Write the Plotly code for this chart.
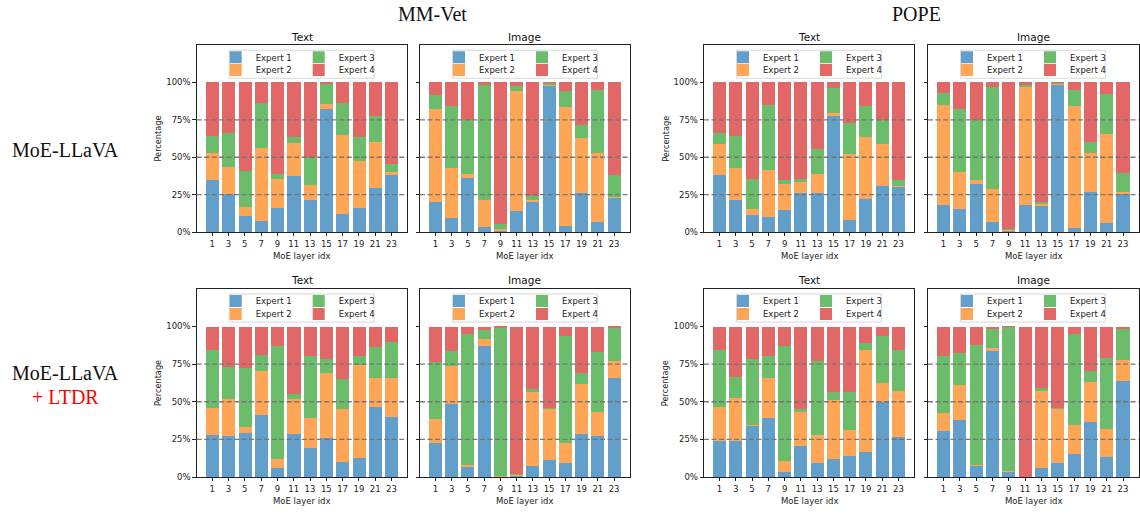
import plotly.graph_objects as go

# ---------------- data ----------------
layers = [1, 3, 5, 7, 9, 11, 13, 15, 17, 19, 21, 23]
y_ticks = [0, 25, 50, 75, 100]
y_tick_labels = ["0%", "25%", "50%", "75%", "100%"]
expert_names = ["Expert 1", "Expert 2", "Expert 3", "Expert 4"]

# MoE-LLaVA, MM-Vet, Text
mv_text_e1 = [34.5, 25.2, 10.6, 7.5, 15.7, 37.2, 21.5, 81.9, 12.2, 15.7, 29.6, 38.3]
mv_text_e2 = [18.4, 18.2, 5.8, 48.7, 19.7, 22.5, 10.1, 3.7, 52.6, 31.9, 30.6, 1.5]
mv_text_e3 = [11.0, 22.5, 24.3, 30.1, 3.1, 3.8, 18.4, 13.5, 21.3, 15.9, 17.5, 5.8]
mv_text_e4 = [36.1, 34.1, 59.3, 13.7, 61.5, 36.5, 50.0, 0.9, 13.9, 36.5, 22.3, 54.4]
# MoE-LLaVA, MM-Vet, Image
mv_img_e1 = [20.1, 9.5, 35.8, 3.3, 0.9, 14.2, 20.1, 98.0, 3.8, 25.9, 6.4, 22.8]
mv_img_e2 = [62.4, 33.2, 2.9, 18.4, 1.3, 80.3, 1.4, 0.9, 79.6, 36.7, 46.7, 0.9]
mv_img_e3 = [9.1, 41.4, 36.3, 76.3, 3.1, 3.1, 2.6, 0.9, 10.6, 9.1, 42.0, 14.1]
mv_img_e4 = [8.4, 15.9, 25.0, 2.0, 94.7, 2.4, 75.9, 0.2, 6.0, 28.3, 4.9, 62.2]
# MoE-LLaVA, POPE, Text
pp_text_e1 = [38.3, 21.5, 11.5, 10.0, 14.8, 26.3, 26.1, 78.1, 8.0, 22.3, 30.8, 30.3]
pp_text_e2 = [20.3, 21.0, 3.8, 31.4, 17.3, 7.1, 12.8, 1.3, 44.0, 41.0, 28.3, 0.5]
pp_text_e3 = [7.3, 21.4, 20.3, 43.6, 2.4, 2.2, 16.9, 17.1, 20.8, 21.0, 15.5, 3.7]
pp_text_e4 = [34.1, 36.1, 64.4, 15.0, 65.5, 64.4, 44.2, 3.5, 27.2, 15.7, 25.4, 65.5]
# MoE-LLaVA, POPE, Image
pp_img_e1 = [17.7, 15.5, 32.1, 6.6, 0.9, 17.7, 17.5, 98.5, 2.9, 26.8, 6.2, 25.7]
pp_img_e2 = [67.3, 24.5, 2.4, 21.9, 0.9, 79.4, 1.3, 0.6, 81.2, 26.3, 59.5, 1.1]
pp_img_e3 = [7.7, 41.9, 40.5, 68.6, 0.4, 1.1, 1.3, 0.7, 10.6, 7.1, 26.6, 12.8]
pp_img_e4 = [7.3, 18.1, 25.0, 2.9, 97.8, 1.8, 79.9, 0.2, 5.3, 39.8, 7.7, 60.4]
# MoE-LLaVA + LTDR, MM-Vet, Text
mv_text_ltdr_e1 = [28.3, 27.6, 29.6, 41.0, 5.9, 28.9, 19.3, 26.1, 9.9, 12.7, 46.7, 39.9]
mv_text_ltdr_e2 = [17.8, 24.2, 4.0, 29.4, 5.9, 23.1, 19.7, 43.0, 35.5, 61.6, 19.3, 26.1]
mv_text_ltdr_e3 = [38.1, 21.4, 38.8, 10.5, 75.5, 3.0, 41.7, 9.6, 19.7, 6.0, 20.8, 23.7]
mv_text_ltdr_e4 = [15.8, 26.8, 27.6, 19.1, 12.7, 45.0, 19.3, 21.3, 34.9, 19.7, 13.2, 10.3]
# MoE-LLaVA + LTDR, MM-Vet, Image
mv_img_ltdr_e1 = [23.0, 48.9, 7.2, 87.3, 0.0, 1.3, 7.2, 11.6, 9.6, 28.9, 27.6, 66.0]
mv_img_ltdr_e2 = [15.6, 25.2, 1.1, 4.4, 0.9, 0.7, 49.8, 33.8, 12.8, 32.9, 16.0, 11.0]
mv_img_ltdr_e3 = [37.7, 9.5, 86.9, 6.1, 98.7, 0.2, 1.3, 0.7, 71.5, 7.3, 39.5, 22.1]
mv_img_ltdr_e4 = [23.7, 16.4, 4.8, 2.2, 0.4, 97.8, 41.7, 53.9, 6.1, 30.9, 16.9, 0.9]
# MoE-LLaVA + LTDR, POPE, Text
pp_text_ltdr_e1 = [23.9, 23.9, 34.2, 39.3, 3.7, 20.4, 9.2, 12.3, 14.3, 16.9, 50.0, 27.0]
pp_text_ltdr_e2 = [22.8, 28.5, 0.4, 26.7, 6.8, 22.6, 18.7, 39.0, 16.8, 67.5, 12.5, 30.0]
pp_text_ltdr_e3 = [37.7, 14.3, 44.1, 14.7, 76.8, 2.2, 49.1, 5.5, 25.7, 4.4, 31.4, 27.4]
pp_text_ltdr_e4 = [15.6, 33.3, 21.3, 19.3, 12.7, 54.8, 23.0, 43.2, 43.2, 11.2, 6.1, 15.6]
# MoE-LLaVA + LTDR, POPE, Image
pp_img_ltdr_e1 = [30.9, 37.7, 7.9, 84.0, 3.7, 0.0, 6.1, 9.6, 15.4, 36.8, 13.6, 63.6]
pp_img_ltdr_e2 = [11.4, 23.7, 0.4, 1.5, 0.7, 0.0, 51.1, 36.2, 19.5, 26.4, 18.6, 14.0]
pp_img_ltdr_e3 = [38.0, 20.8, 79.2, 12.7, 95.4, 0.0, 2.0, 0.3, 60.5, 7.2, 46.7, 20.6]
pp_img_ltdr_e4 = [19.7, 17.8, 12.5, 1.8, 0.2, 100.0, 40.8, 53.9, 4.6, 29.6, 21.1, 1.8]

panels = [
    ("Text", [mv_text_e1, mv_text_e2, mv_text_e3, mv_text_e4]),
    ("Image", [mv_img_e1, mv_img_e2, mv_img_e3, mv_img_e4]),
    ("Text", [pp_text_e1, pp_text_e2, pp_text_e3, pp_text_e4]),
    ("Image", [pp_img_e1, pp_img_e2, pp_img_e3, pp_img_e4]),
    ("Text", [mv_text_ltdr_e1, mv_text_ltdr_e2, mv_text_ltdr_e3, mv_text_ltdr_e4]),
    ("Image", [mv_img_ltdr_e1, mv_img_ltdr_e2, mv_img_ltdr_e3, mv_img_ltdr_e4]),
    ("Text", [pp_text_ltdr_e1, pp_text_ltdr_e2, pp_text_ltdr_e3, pp_text_ltdr_e4]),
    ("Image", [pp_img_ltdr_e1, pp_img_ltdr_e2, pp_img_ltdr_e3, pp_img_ltdr_e4]),
]

colors = ["#62A0CB", "#FFA556", "#6BBC6B", "#E26868"]

# ---------------- layout geometry (pixels) ----------------
W, H = 1140, 514
col_px = [(196.7, 407.0), (420.0, 629.5), (704.0, 914.0), (928.0, 1138.5)]
row_px = [(45.5, 234.3), (291.7, 481.7)]  # (top, bottom)
FONT = "DejaVu Sans"
SERIF = "Liberation Serif"
TICK = 8.5

fig = go.Figure()
layout = dict(
    width=W, height=H, margin=dict(l=0, r=0, t=0, b=0),
    paper_bgcolor="white", plot_bgcolor="white",
    barmode="stack", bargap=0, showlegend=True,
    font=dict(family=FONT, size=TICK, color="#222"),
)
shapes = []
annotations = []

for k, (title, series) in enumerate(panels):
    r, c = divmod(k, 4)
    left, right = col_px[c]
    top, bottom = row_px[r]
    sfx = "" if k == 0 else str(k + 1)
    xa, ya = "x" + sfx, "y" + sfx
    legA = "legend" if k == 0 else f"legend{2 * k + 1}"
    legB = f"legend{2 * k + 2}"
    for i in range(4):
        fig.add_trace(go.Bar(
            x=layers, y=series[i], width=1.6, name=expert_names[i],
            marker=dict(color=colors[i], line=dict(width=0)),
            xaxis=xa, yaxis=ya,
            legend=legA if i in (0, 2) else legB,
            showlegend=True,
        ))
    layout["xaxis" + sfx] = dict(
        domain=[left / W, right / W], anchor=ya, range=[-0.9, 24.9],
        tickvals=layers, ticktext=[str(v) for v in layers],
        ticks="outside", ticklen=3.5, tickwidth=0.8, tickcolor="#222",
        showline=True, mirror=True, linecolor="#222", linewidth=0.8,
        showgrid=False, zeroline=False, tickfont=dict(size=TICK, color="#222"),
        ticklabelstandoff=0,
    )
    layout["yaxis" + sfx] = dict(
        domain=[1 - bottom / H, 1 - top / H], anchor=xa, range=[0, 125],
        tickvals=y_ticks, ticktext=y_tick_labels,
        showticklabels=(c % 2 == 0),
        ticks="outside", ticklen=3.5, tickwidth=0.8, tickcolor="#222",
        showline=True, mirror=True, linecolor="#222", linewidth=0.8,
        showgrid=False, zeroline=False, tickfont=dict(size=TICK, color="#222"),
    )
    for g in (25, 50, 75):
        shapes.append(dict(
            type="line", xref=xa + " domain", x0=0, x1=1, yref=ya, y0=g, y1=g,
            line=dict(color="rgba(115,115,115,0.95)", width=1.3, dash="5px,2.5px"),
            layer="above",
        ))
    # legend frame
    shapes.append(dict(
        type="rect", xref="paper", yref="paper",
        x0=(left + 32.6) / W, x1=(left + 177.3) / W,
        y0=1 - (top + 5.2) / H, y1=1 - (top + 33.5) / H,
        line=dict(color="#d6d6d6", width=1), fillcolor="rgba(255,255,255,0.85)",
        layer="above",
    ))
    for leg, dy in ((legA, 12.3), (legB, 25.3)):
        layout[leg] = dict(
            orientation="h", x=(left + 19) / W, xanchor="left",
            y=1 - (top + dy) / H, yanchor="middle",
            bgcolor="rgba(0,0,0,0)", borderwidth=0,
            font=dict(family=FONT, size=8.5, color="#222"),
            entrywidth=38, entrywidthmode="pixels", itemwidth=30,
            traceorder="normal", itemclick=False, itemdoubleclick=False,
        )
    # subplot title
    annotations.append(dict(
        text=title, x=(left + right) / 2 / W, y=1 - (top - 8.5) / H,
        xref="paper", yref="paper", showarrow=False,
        xanchor="center", yanchor="middle",
        font=dict(family=FONT, size=10.5, color="#111"),
    ))
    # x-axis title
    annotations.append(dict(
        text="MoE layer idx", x=(left + right) / 2 / W, y=1 - (bottom + 17.5) / H,
        xref="paper", yref="paper", showarrow=False,
        xanchor="center", yanchor="top",
        font=dict(family=FONT, size=8.5, color="#222"),
    ))
    if c % 2 == 0:
        annotations.append(dict(
            text="Percentage", x=(left - 38.7) / W, y=1 - (top + bottom) / 2 / H,
            xref="paper", yref="paper", showarrow=False, textangle=-90,
            xanchor="center", yanchor="middle",
            font=dict(family=FONT, size=8.2, color="#222"),
        ))

# big titles
annotations.append(dict(text="MM-Vet", x=432 / W, y=1 - 14 / H, xref="paper", yref="paper",
                        showarrow=False, xanchor="center", yanchor="middle",
                        font=dict(family=SERIF, size=20, color="#111")))
annotations.append(dict(text="POPE", x=916 / W, y=1 - 14 / H, xref="paper", yref="paper",
                        showarrow=False, xanchor="center", yanchor="middle",
                        font=dict(family=SERIF, size=20, color="#111")))
annotations.append(dict(text="MoE-LLaVA", x=65 / W, y=1 - 151.7 / H, xref="paper", yref="paper",
                        showarrow=False, xanchor="center", yanchor="middle",
                        font=dict(family=SERIF, size=20, color="#111")))
annotations.append(dict(text="MoE-LLaVA", x=65 / W, y=1 - 376.7 / H, xref="paper", yref="paper",
                        showarrow=False, xanchor="center", yanchor="middle",
                        font=dict(family=SERIF, size=20, color="#111")))
annotations.append(dict(text="+ LTDR", x=65 / W, y=1 - 400.7 / H, xref="paper", yref="paper",
                        showarrow=False, xanchor="center", yanchor="middle",
                        font=dict(family=SERIF, size=20, color="#ff0000")))

layout["shapes"] = shapes
layout["annotations"] = annotations
fig.update_layout(**layout)
fig.write_html("out.html")
